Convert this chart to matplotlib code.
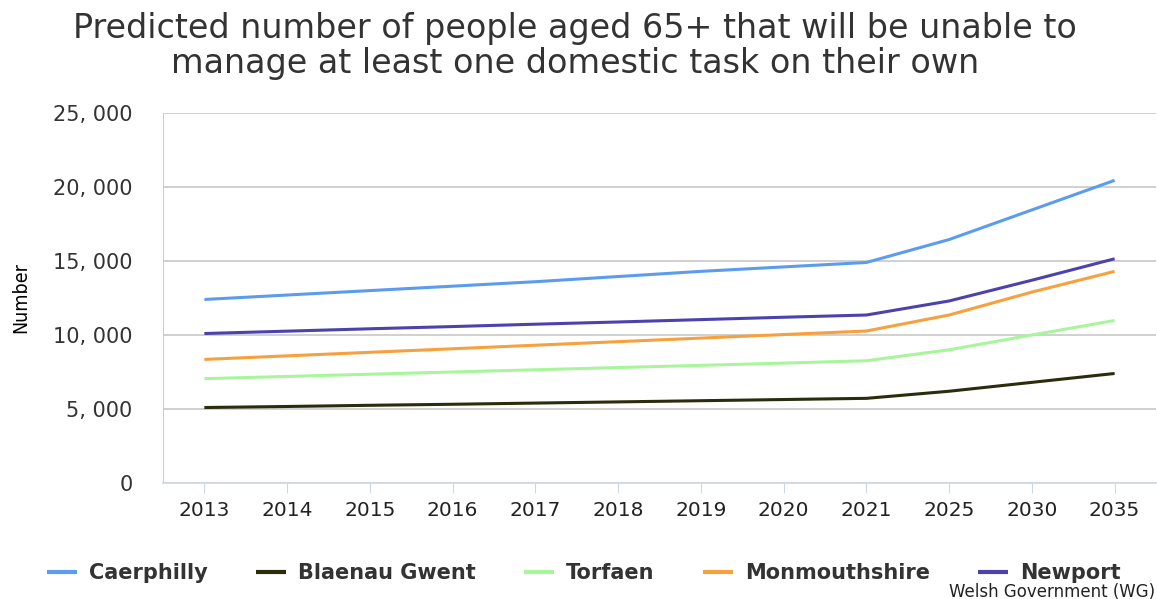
import matplotlib.pyplot as plt
from matplotlib.ticker import FuncFormatter

years = ["2013", "2014", "2015", "2016", "2017", "2018", "2019", "2020", "2021", "2025", "2030", "2035"]

caerphilly = [12400, 12700, 13000, 13300, 13600, 13950, 14300, 14600, 14900, 16450, 18450, 20450]
blaenau_gwent = [5100, 5170, 5250, 5320, 5400, 5480, 5560, 5640, 5720, 6200, 6800, 7400]
torfaen = [7050, 7200, 7350, 7500, 7650, 7800, 7950, 8100, 8260, 9000, 10000, 10980]
monmouthshire = [8350, 8590, 8830, 9070, 9310, 9550, 9790, 10030, 10270, 11350, 12900, 14300]
newport = [10100, 10260, 10420, 10570, 10730, 10880, 11040, 11200, 11350, 12300, 13700, 15150]

series = [
    ("Caerphilly", caerphilly, "#5b9cef"),
    ("Blaenau Gwent", blaenau_gwent, "#2a2c0c"),
    ("Torfaen", torfaen, "#a8f59c"),
    ("Monmouthshire", monmouthshire, "#f7a03e"),
    ("Newport", newport, "#4c42ae"),
]

fig = plt.figure(figsize=(11.57, 5.99), dpi=100)
ax = fig.add_axes([163 / 1157, 1 - 483 / 599, (1156 - 163) / 1157, (483 - 113) / 599])

x = list(range(len(years)))
for name, vals, col in series:
    ax.plot(x, vals, color=col, lw=2.2, label=name, solid_capstyle="butt")

ax.set_xlim(-0.5, len(years) - 0.5)
ax.set_ylim(0, 25000)
ax.set_yticks([0, 5000, 10000, 15000, 20000, 25000])
ax.yaxis.set_major_formatter(FuncFormatter(lambda v, p: "0" if v == 0 else "{:,}".format(int(v)).replace(",", ", ")))
ax.set_xticks(x)
ax.set_xticklabels(years, fontsize=14.5, color="#222222")
for lab in ax.get_yticklabels():
    lab.set_fontsize(15)
    lab.set_color("#333333")

ax.grid(axis="y", color="#c8c8c8", lw=1.2)
ax.set_axisbelow(True)
for s in ["top", "right"]:
    ax.spines[s].set_visible(False)
ax.spines["left"].set_color("#cccccc")
ax.spines["bottom"].set_color("#ccd6eb")
ax.spines["bottom"].set_linewidth(1.2)
ax.tick_params(axis="y", length=0, pad=22)
ax.tick_params(axis="x", length=7, color="#ccd6eb", pad=6)

ax.set_ylabel("Number", fontsize=14, fontstretch="condensed", labelpad=16)

fig.text(0.497, 1 - 46 / 599, "Predicted number of people aged 65+ that will be unable to\nmanage at least one domestic task on their own",
         ha="center", va="center", fontsize=24, color="#333333", linespacing=1.05)

leg = fig.legend(loc="center", bbox_to_anchor=(584 / 1157, 1 - 573 / 599), ncol=5, frameon=False,
                 prop={"size": 15, "weight": "bold"},
                 handlelength=1.45, columnspacing=2.3, handletextpad=0.58)
for t in leg.get_texts():
    t.set_color("#333333")
for h in leg.get_lines():
    h.set_linewidth(3)

fig.text(0.998, 1 - 592 / 599, "Welsh Government (WG)", ha="right", va="center", fontsize=12, color="#222222")

fig.savefig("out.png", dpi=100)
